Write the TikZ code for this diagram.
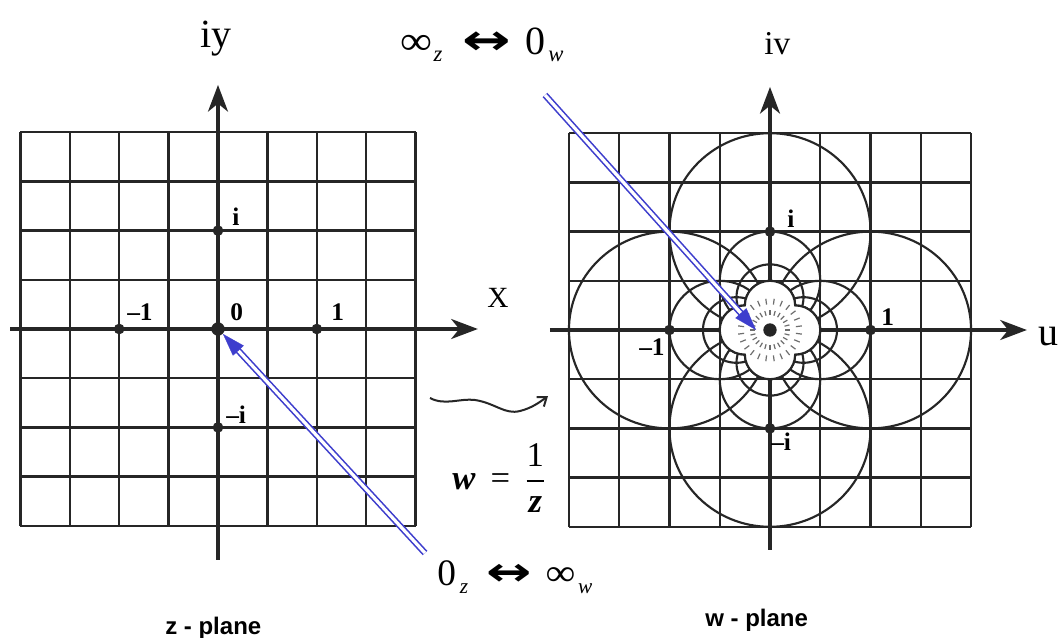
\documentclass[tikz,border=0pt]{standalone}
\usepackage{amsmath}
\usepackage{graphicx}
\usepackage{fontspec}
\setmainfont{Liberation Serif}
\newfontfamily\lsans{Liberation Sans}
\newfontfamily\djv{DejaVu Sans}
\newcommand{\bigarr}{{\djv\bfseries\scalebox{1.45}[1.05]{↔}}}
\usetikzlibrary{arrows.meta,calc}
\definecolor{ink}{RGB}{38,38,38}
\definecolor{arrblue}{RGB}{62,62,205}
\definecolor{dashg}{RGB}{110,110,110}
\begin{document}
\begin{tikzpicture}[x=0.75pt,y=-0.75pt,
  gridl/.style={draw=ink, line width=1.8pt},
  axisl/.style={draw=ink, line width=2.3pt, -{Stealth[length=20pt,width=15pt,inset=6pt]}},
  circl/.style={draw=ink, line width=1.6pt},
  dot/.style={circle, fill=ink, inner sep=0pt, minimum size=8pt},
  bigdot/.style={circle, fill=ink, inner sep=0pt, minimum size=10pt},
  lbl/.style={font=\fontsize{19}{22}\selectfont\bfseries, inner sep=0pt, anchor=base west},
  txt/.style={inner sep=0pt, anchor=base west},
  blueline/.style={draw=arrblue, line width=1.2pt, double=white, double distance=2.4pt, shorten >=12pt},
  bluetip/.style={draw=arrblue, fill=arrblue, line width=0.2pt, -{Triangle[length=17pt,width=11pt]}},
  wavy/.style={draw=ink, line width=1.5pt, -{Straight Barb[length=6pt,width=9pt]}}]
\useasboundingbox (0,0) rectangle (1060,638);
\fill[white] (0,0) rectangle (1060,638);

% ---------------- z-plane ----------------
\coordinate (Zc) at (218,329);
\begin{scope}[shift={(Zc)}, x=37.05pt, y=36.9pt]
  \foreach \k in {-4,...,4} {
    \draw[gridl] (\k,-4) -- (\k,4);
    \draw[gridl] (-4,\k) -- (4,\k);
  }
  \draw[axisl] (0,-4.69) -- (0,4.96);
  \draw[axisl] (-4.21,0) -- (5.26,0);
  \node[dot] (zm1) at (-2,0) {};
  \node[dot] (zp1) at (2,0) {};
  \node[dot] (zpi) at (0,2) {};
  \node[dot] (zmi) at (0,-2) {};
  \node[bigdot] (z0) at (0,0) {};
\end{scope}
\node[lbl] (lzm1) at (127,320) {–1};
\node[lbl] (lz0) at (230,320) {0};
\node[lbl] (lzp1) at (331,320) {1};
\node[lbl] (lzpi) at (232,225) {i};
\node[lbl] (lzmi) at (226,423) {–i};

% ---------------- w-plane ----------------
\coordinate (Wc) at (770,330);
\begin{scope}[shift={(Wc)}, x=37.7pt, y=36.9pt]
  \foreach \k in {-4,...,4} {
    \draw[gridl] (\k,-4) -- (\k,4);
    \draw[gridl] (-4,\k) -- (4,\k);
  }
  \foreach \r in {2,1,0.6667,0.5} {
    \draw[circl] (\r,0) circle[radius=\r];
    \draw[circl] (-\r,0) circle[radius=\r];
    \draw[circl] (0,\r) circle[radius=\r];
    \draw[circl] (0,-\r) circle[radius=\r];
  }
  \draw[axisl] (0,-4.47) -- (0,4.94);
  \draw[axisl] (-4.38,0) -- (5.11,0);
  % inner flower (limit region near the origin)
  \filldraw[fill=white, draw=ink, line width=1.6pt]
    (0.5,-0.5) arc[start angle=-90,end angle=90,radius=0.5]
    arc[start angle=0,end angle=180,radius=0.5]
    arc[start angle=90,end angle=270,radius=0.5]
    arc[start angle=180,end angle=360,radius=0.5] -- cycle;
  \foreach \a in {0,15,...,345} {
    \draw[dashg, line width=0.9pt] (\a:0.30) -- (\a:0.40);
  }
  \foreach \a in {7.5,22.5,...,352.5} {
    \draw[dashg, line width=0.9pt] (\a:0.52) -- (\a:0.64);
  }
  \node[dot] (wm1) at (-2,0) {};
  \node[dot] (wp1) at (2,0) {};
  \node[dot] (wpi) at (0,2) {};
  \node[dot] (wmi) at (0,-2) {};
  \node[bigdot] (w0) at (0,0) {};
\end{scope}
\node[lbl] (lwm1) at (639,355) {–1};
\node[lbl] (lwp1) at (881,325) {1};
\node[lbl] (lwpi) at (787,227) {i};
\node[lbl] (lwmi) at (771,450) {–i};

% ---------------- axis names ----------------
\node[txt, font=\fontsize{30}{36}\selectfont] (iy) at (200,48) {iy};
\node[txt, font=\fontsize{25}{30}\selectfont] (iv) at (764,55) {iv};
\node[txt, font=\fontsize{22}{26}\selectfont] (xlab) at (487,307) {X};
\node[txt, font=\fontsize{30}{36}\selectfont] (ulab) at (1038,345) {u};

% ---------------- correspondences ----------------
\node[txt, font=\fontsize{30}{36}\selectfont] (inf0) at (400,55)
  {\scalebox{1.12}[1]{∞}\hspace{1pt}\raisebox{-5pt}{\fontsize{17}{20}\selectfont\itshape z}\hspace{15pt}\bigarr\hspace{11pt}0\hspace{2pt}\raisebox{-5pt}{\fontsize{17}{20}\selectfont\itshape w}};
\node[txt, font=\fontsize{28}{34}\selectfont] (zeroinf) at (437,585)
  {0\hspace{3pt}\raisebox{-6pt}{\fontsize{16}{19}\selectfont\itshape z}\hspace{14pt}\bigarr\hspace{10pt}\scalebox{1.12}[1]{∞}\hspace{2pt}\raisebox{-6pt}{\fontsize{16}{19}\selectfont\itshape w}};

% ---------------- mapping ----------------
\node[inner sep=0pt, font=\fontsize{26}{31}\selectfont] (map) at (499,478)
  {$\text{\bfseries\itshape w}\mathrel{\text{\,=\,}}\dfrac{\text{1}}{\text{\bfseries\itshape z}}$};
\coordinate (wvA) at (430,398);
\coordinate (wvB) at (548,396);
\draw[wavy] (wvA) .. controls (445,406) and (460,398) .. (475,400)
  .. controls (495,403) and (505,415) .. (520,411)
  .. controls (532,408) and (540,402) .. (wvB);

% ---------------- blue arrows ----------------
\coordinate (ztail) at (425,553);
\coordinate (ztip) at (223,334);
\coordinate (wtail) at (545,95);
\coordinate (wtip) at (756,330);
\draw[blueline] (ztail) -- (ztip);
\draw[bluetip] ($(ztip)!17pt!(ztail)$) -- (ztip);
\draw[blueline] (wtail) -- (wtip);
\draw[bluetip] ($(wtip)!17pt!(wtail)$) -- (wtip);

% ---------------- captions ----------------
\node[txt, font=\lsans\bfseries\fontsize{18}{22}\selectfont] (zcap) at (165,634) {z - plane};
\node[txt, font=\lsans\bfseries\fontsize{18}{22}\selectfont] (wcap) at (705,626) {w - plane};
\end{tikzpicture}
\end{document}
